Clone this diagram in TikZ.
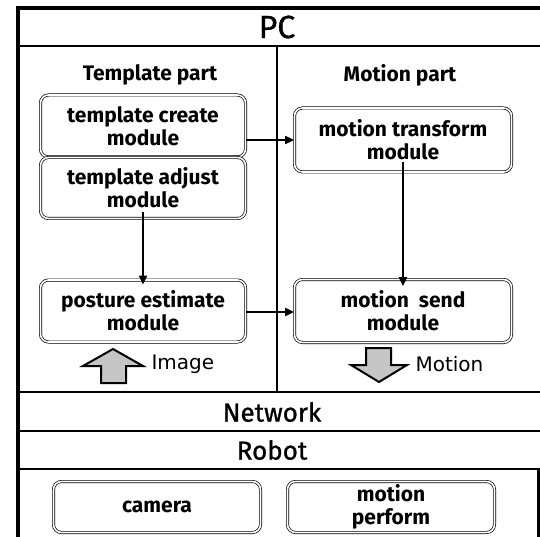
\documentclass[tikz,border=0pt]{standalone}
\usepackage{fontspec}
\setmainfont{Fira Sans}
\newfontfamily\labelfont{DejaVu Sans}
\newfontface\medface{Fira Sans}[FakeBold=1.0]
\usetikzlibrary{arrows.meta}
\tikzset{
  frame/.style={line width=3.2pt},
  divider/.style={line width=2.6pt},
  module/.style={draw, double, double distance=1.6pt, line width=0.7pt,
    rounded corners=8pt, align=center, font=\fontsize{21}{23}\selectfont\bfseries,
    inner sep=0pt},
  heading/.style={font=\fontsize{21}{24}\selectfont\bfseries},
  band/.style={font=\medface\fontsize{26}{28}\selectfont},
  flow/.style={-{Triangle[length=9pt,width=8pt]}, line width=1.8pt},
  blockarrow/.style={draw, line width=2pt, line join=miter, fill=gray!45},
  sidelabel/.style={font=\labelfont\fontsize{20}{22}\selectfont, anchor=west}
}
\begin{document}
\begin{tikzpicture}[x=1pt,y=-1pt]
\useasboundingbox (0,0) rectangle (540,537);

% outer frame and bands
\draw[frame] (18,537) -- (18,8) -- (540,8);
\draw[frame] (539,469) -- (539,537);
\draw[divider] (18,46) -- (540,46);
\draw[divider] (277,46) -- (277,392);
\draw[divider] (18,392) -- (540,392);
\draw[divider] (18,431) -- (540,431);
\draw[divider] (16,469) -- (540,469);

% headings
\node[font=\medface\fontsize{32}{34}\selectfont] (pc) at (277,27) {PC};
\node[heading] (tpart) at (150,75) {Template part};
\node[heading] (mpart) at (400,75) {Motion part};
\node[band] (net) at (272,412) {Network};
\node[band] (rob) at (272,450) {Robot};

% PC modules
\node[module, minimum width=205pt, minimum height=62pt] (create) at (143,126) {template create\\module};
\node[module, minimum width=205pt, minimum height=61pt] (adjust) at (143,188) {template adjust\\module};
\node[module, minimum width=205pt, minimum height=62pt] (posture) at (143,311) {posture estimate\\module};
\node[module, minimum width=217pt, minimum height=64pt] (transform) at (403,140) {motion transform\\module};
\node[module, minimum width=217pt, minimum height=63pt] (send) at (403,311) {motion\ \ send\\module};

% robot modules
\node[module, minimum width=207pt, minimum height=51pt] (camera) at (157,507) {camera};
\node[module, minimum width=207pt, minimum height=51pt] (perform) at (391,507) {motion\\perform};

% data flow
\draw[flow] (create.east |- 0,140) -- (transform.west);
\draw[flow] ([yshift=7pt]adjust.south) -- ([yshift=-5pt]posture.north);
\draw[flow] ([yshift=10pt]transform.south) -- ([yshift=-7pt]send.north);
\draw[flow] (posture.east |- 0,312) -- (send.west |- 0,312);

% image in, motion out
\draw[blockarrow] (113,349) -- (143,366) -- (126,366) -- (126,383) -- (101,383)
  -- (101,366) -- (83,366) -- cycle;
\node[sidelabel] (img) at (148,364) {Image};
\draw[blockarrow] (366,348) -- (391,348) -- (391,365) -- (407,365) -- (379,382)
  -- (351,365) -- (366,365) -- cycle;
\node[sidelabel] (mot) at (412,364) {Motion};
\end{tikzpicture}
\end{document}
